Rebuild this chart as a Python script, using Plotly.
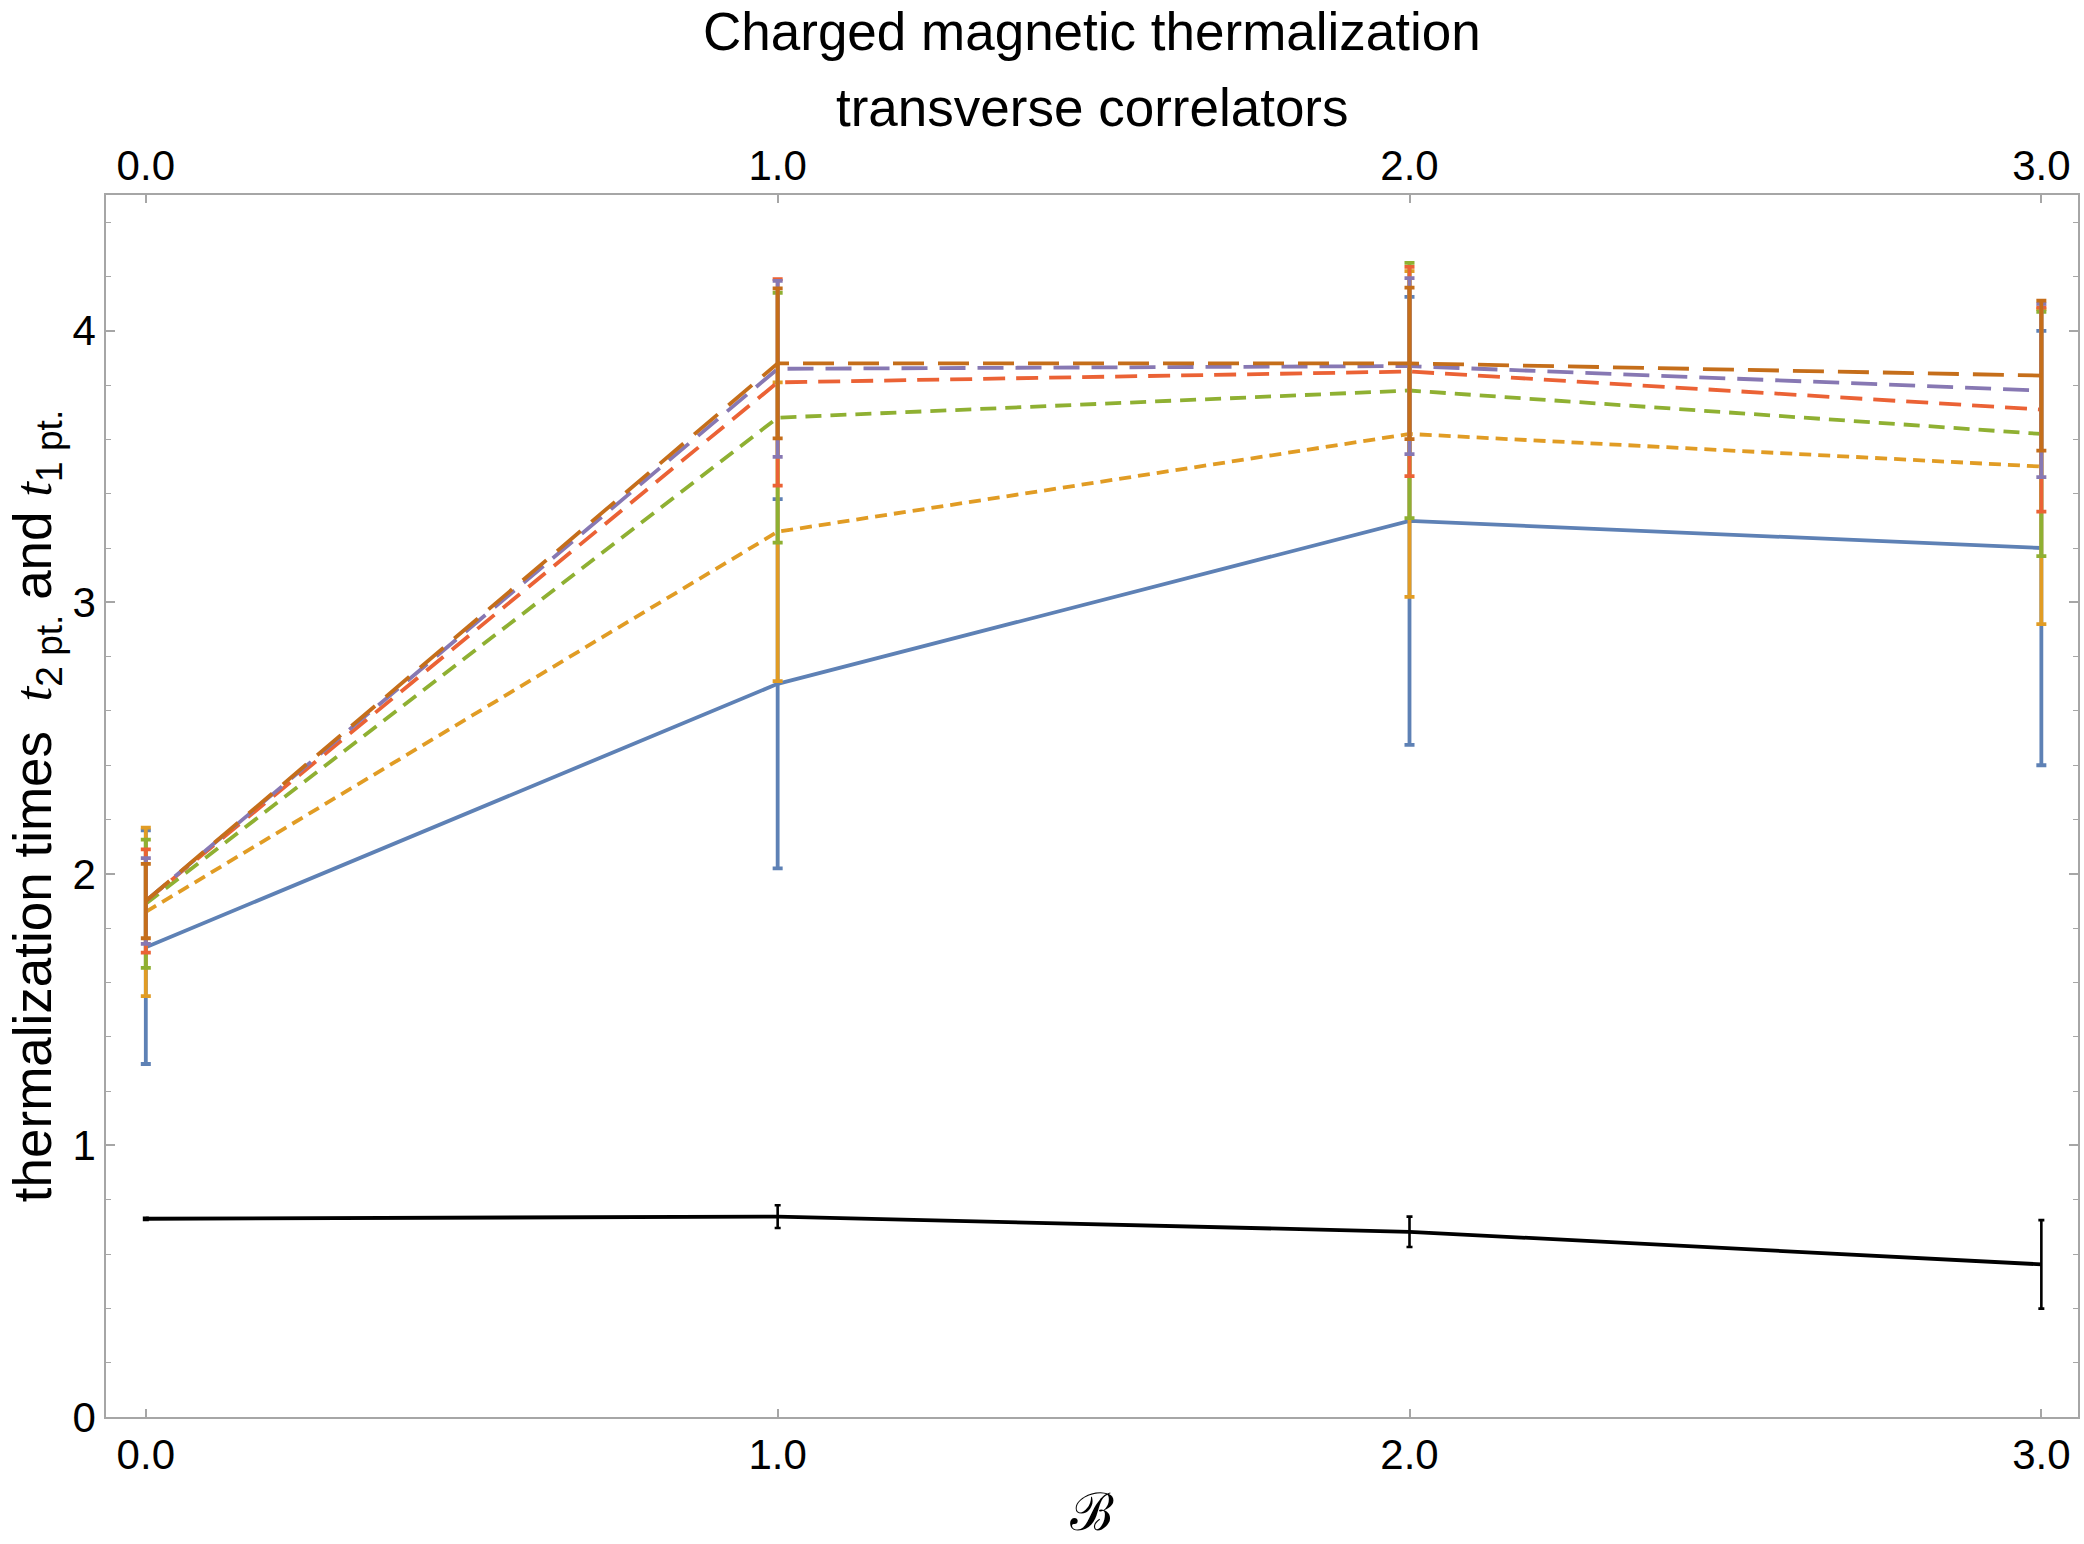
import plotly.graph_objects as go

# ---------------- data ----------------
B_values = [0.0, 1.0, 2.0, 3.0]
tick_text = ["0.0", "1.0", "2.0", "3.0"]

blue_t2 = [1.73, 2.70, 3.30, 3.20]
blue_err = [0.43, 0.68, 0.825, 0.80]
orange_t2 = [1.86, 3.26, 3.62, 3.50]
orange_err = [0.31, 0.55, 0.60, 0.58]
green_t2 = [1.89, 3.68, 3.78, 3.62]
green_err = [0.236, 0.46, 0.47, 0.45]
red_t2 = [1.90, 3.81, 3.85, 3.71]
red_err = [0.19, 0.38, 0.385, 0.376]
purple_t2 = [1.90, 3.86, 3.87, 3.78]
purple_err = [0.158, 0.324, 0.324, 0.319]
brown_t2 = [1.90, 3.88, 3.88, 3.835]
brown_err = [0.137, 0.276, 0.279, 0.276]
black_t1 = [0.73, 0.738, 0.682, 0.562]
black_err = [0.004, 0.042, 0.056, 0.163]

title_lines = ["Charged magnetic thermalization", "transverse correlators"]

series = [
    (blue_t2, blue_err, "#5E81B5", "solid"),
    (orange_t2, orange_err, "#E19C24", "12px,7px"),
    (green_t2, green_err, "#8FB032", "16px,9px"),
    (red_t2, red_err, "#EB6235", "22px,11px"),
    (purple_t2, purple_err, "#8778B3", "26px,12px"),
    (brown_t2, brown_err, "#C56E1A", "31px,14px"),
]

fig = go.Figure()

fig.add_trace(go.Scatter(
    x=B_values, y=black_t1, mode="lines",
    line=dict(color="black", width=3.8),
    error_y=dict(type="data", array=black_err, color="black", thickness=2.6, width=3),
    showlegend=False,
))

for vals, errs, col, dash in series:
    fig.add_trace(go.Scatter(
        x=B_values, y=vals, mode="lines",
        line=dict(color=col, width=3.8, dash=dash),
        error_y=dict(type="data", array=errs, color=col, thickness=3.8, width=5),
        showlegend=False,
    ))

# invisible trace for top axis
fig.add_trace(go.Scatter(x=B_values, y=black_t1, xaxis="x2", mode="markers",
                         marker=dict(opacity=0), showlegend=False, hoverinfo="skip"))

axis_col = "#a6a6a6"
tick_font = dict(family="Liberation Sans, Arial, sans-serif", size=42, color="black")
title_font = dict(family="Liberation Sans, Arial, sans-serif", size=53, color="black")

fig.update_layout(
    width=2084, height=1544,
    margin=dict(l=106, r=4, t=195, b=127),
    paper_bgcolor="white", plot_bgcolor="white",
    annotations=[
        dict(text=title_lines[0], xref="paper", yref="paper", x=0.5, y=1.0 + (195 - 32) / 1222,
             xanchor="center", yanchor="middle", showarrow=False, font=title_font),
        dict(text=title_lines[1], xref="paper", yref="paper", x=0.5, y=1.0 + (195 - 107) / 1222,
             xanchor="center", yanchor="middle", showarrow=False, font=title_font),
    ],
    xaxis=dict(
        range=[-0.063, 3.058], tickvals=B_values, ticktext=tick_text,
        showgrid=False, zeroline=False, showline=True, linecolor=axis_col, linewidth=1.5,
        ticks="inside", ticklen=8, tickcolor=axis_col, tickwidth=1.5,
        mirror=True, tickfont=tick_font,
        title=dict(text="ℬ", font=dict(family="DejaVu Serif, serif", size=52, color="black"), standoff=16),
    ),
    xaxis2=dict(
        range=[-0.063, 3.058], overlaying="x", side="top", matches="x",
        tickvals=B_values, ticktext=tick_text,
        showgrid=False, zeroline=False, showline=False,
        ticks="inside", ticklen=8, tickcolor=axis_col, tickwidth=1.5,
        tickfont=tick_font, ticklabelstandoff=6,
    ),
    yaxis=dict(
        range=[0, 4.5], tickvals=[0, 1, 2, 3, 4], ticktext=["0", "1", "2", "3", "4"],
        showgrid=False, zeroline=False, showline=True, linecolor=axis_col, linewidth=1.5,
        ticks="inside", ticklen=9, tickcolor=axis_col, tickwidth=1.5,
        mirror="ticks", tickfont=tick_font,
        minor=dict(dtick=0.2, ticks="inside", ticklen=5, tickcolor=axis_col, tickwidth=1.2, showgrid=False),
        title=dict(
            text="thermalization times  <span style='font-family:Liberation Serif'><i>t</i></span><sub>2 pt.</sub> and <span style='font-family:Liberation Serif'><i>t</i></span><sub>1 pt.</sub>",
            font=dict(family="Liberation Sans, Arial, sans-serif", size=53, color="black"),
            standoff=4,
        ),
    ),
)

fig.write_html("out.html")
